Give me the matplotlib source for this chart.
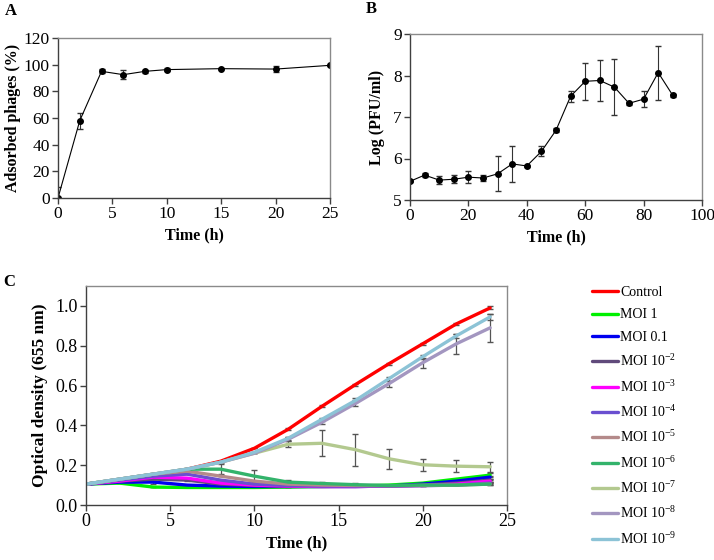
import matplotlib
matplotlib.use("Agg")
import matplotlib.pyplot as plt

plt.rcParams['font.family'] = ['Liberation Serif', 'DejaVu Serif']
plt.rcParams['mathtext.fontset'] = 'custom'
plt.rcParams['mathtext.rm'] = 'Liberation Serif'
plt.rcParams['mathtext.it'] = 'Liberation Serif:italic'
plt.rcParams['mathtext.bf'] = 'Liberation Serif:bold'

# ---- Panel A data ----
a_time = [0, 2, 4, 6, 8, 10, 15, 20, 25]
a_adsorbed = [0, 58, 95, 92.5, 95, 96.3, 97, 96.7, 99.5]
a_err = [8, 6, 1.5, 3.5, 1.0, 1.2, 0.5, 2.5, 0.5]

# ---- Panel B data ----
b_time = [0, 5, 10, 15, 20, 25, 30, 35, 40, 45, 50, 55, 60, 65, 70, 75, 80, 85, 90]
b_logpfu = [5.45, 5.6, 5.48, 5.5, 5.55, 5.53, 5.63, 5.87, 5.82, 6.17, 6.68,
            7.5, 7.86, 7.88, 7.72, 7.33, 7.43, 8.07, 7.52]
b_err = [0.02, 0.05, 0.1, 0.1, 0.15, 0.07, 0.42, 0.43, 0.03, 0.12, 0.05,
         0.13, 0.44, 0.5, 0.68, 0.03, 0.2, 0.65, 0.03]

# ---- Panel C data ----
c_time = [0, 2, 4, 6, 8, 10, 12, 14, 16, 18, 20, 22, 24]
c_labels = ['Control', 'MOI 1', 'MOI 0.1', 'MOI 10$^{-2}$', 'MOI 10$^{-3}$',
            'MOI 10$^{-4}$', 'MOI 10$^{-5}$', 'MOI 10$^{-6}$', 'MOI 10$^{-7}$',
            'MOI 10$^{-8}$', 'MOI 10$^{-9}$']
c_colors = ['#FF0000', '#00F000', '#0000F0', '#604A7B', '#FF00FF', '#6A4FD0',
            '#B48A8A', '#33B36B', '#B3C98F', '#A396C0', '#8CC3D6']
c_control = [0.105, 0.125, 0.15, 0.18, 0.22, 0.285, 0.38, 0.495, 0.605, 0.71, 0.81, 0.91, 0.99]
c_moi1 = [0.105, 0.11, 0.09, 0.088, 0.088, 0.088, 0.09, 0.093, 0.095, 0.1, 0.11, 0.13, 0.15]
c_moi01 = [0.105, 0.115, 0.115, 0.1, 0.095, 0.093, 0.093, 0.093, 0.093, 0.095, 0.105, 0.12, 0.14]
c_moi2 = [0.105, 0.12, 0.13, 0.125, 0.105, 0.098, 0.095, 0.093, 0.093, 0.095, 0.1, 0.11, 0.125]
c_moi3 = [0.105, 0.12, 0.14, 0.135, 0.11, 0.1, 0.095, 0.093, 0.093, 0.095, 0.098, 0.105, 0.12]
c_moi4 = [0.105, 0.125, 0.145, 0.155, 0.125, 0.105, 0.098, 0.095, 0.095, 0.095, 0.097, 0.1, 0.11]
c_moi5 = [0.105, 0.13, 0.155, 0.17, 0.145, 0.12, 0.105, 0.1, 0.098, 0.097, 0.098, 0.1, 0.105]
c_moi6 = [0.105, 0.13, 0.155, 0.18, 0.18, 0.145, 0.115, 0.108, 0.102, 0.098, 0.1, 0.1, 0.105]
c_moi7 = [0.105, 0.13, 0.155, 0.18, 0.215, 0.26, 0.305, 0.31, 0.278, 0.232, 0.202, 0.195, 0.192]
c_moi8 = [0.105, 0.13, 0.155, 0.18, 0.215, 0.26, 0.33, 0.415, 0.51, 0.61, 0.715, 0.81, 0.89]
c_moi9 = [0.105, 0.13, 0.155, 0.18, 0.215, 0.265, 0.335, 0.43, 0.525, 0.635, 0.745, 0.85, 0.945]
c_err_control = [0, 0, 0, 0, 0, 0, 0.005, 0.005, 0.005, 0.005, 0.005, 0.005, 0.008]
c_err_moi1 = [0, 0, 0, 0, 0, 0, 0, 0, 0, 0, 0, 0, 0.01]
c_err_moi01 = [0, 0, 0.008, 0, 0, 0, 0, 0, 0, 0, 0, 0, 0.008]
c_err_moi2 = [0, 0, 0, 0.005, 0, 0, 0, 0, 0, 0, 0, 0, 0.008]
c_err_moi3 = [0, 0, 0, 0, 0, 0, 0, 0, 0, 0, 0, 0, 0.006]
c_err_moi4 = [0, 0, 0, 0, 0, 0, 0, 0, 0, 0, 0, 0, 0.006]
c_err_moi5 = [0, 0, 0, 0, 0, 0, 0, 0, 0, 0, 0, 0, 0.005]
c_err_moi6 = [0, 0, 0, 0, 0.025, 0.03, 0.012, 0.01, 0.008, 0, 0, 0, 0.006]
c_err_moi7 = [0, 0, 0, 0, 0, 0, 0.015, 0.065, 0.08, 0.05, 0.03, 0.03, 0.025]
c_err_moi8 = [0, 0, 0, 0, 0, 0, 0.01, 0.01, 0.015, 0.015, 0.025, 0.05, 0.07]
c_err_moi9 = [0, 0, 0, 0, 0, 0, 0.008, 0.008, 0.01, 0.01, 0.01, 0.01, 0.015]

c_series = [c_control, c_moi1, c_moi01, c_moi2, c_moi3, c_moi4, c_moi5,
            c_moi6, c_moi7, c_moi8, c_moi9]
c_errs = [c_err_control, c_err_moi1, c_err_moi01, c_err_moi2, c_err_moi3,
          c_err_moi4, c_err_moi5, c_err_moi6, c_err_moi7, c_err_moi8, c_err_moi9]

W, H = 714, 560
fig = plt.figure(figsize=(W / 100, H / 100), dpi=100)


def add_ax(l, r, t, b):
    return fig.add_axes([l / W, 1 - b / H, (r - l) / W, (b - t) / H])


def style(ax, fs):
    for s in ['top', 'right']:
        ax.spines[s].set_color('#8a8a8a')
    for s in ['bottom', 'left']:
        ax.spines[s].set_color('#404040')
    for s in ax.spines.values():
        s.set_linewidth(1.0)
    ax.tick_params(direction='out', length=4, width=1.0, color='#404040',
                   labelsize=fs, pad=2)


# Panel A
axA = add_ax(58, 330, 38, 198)
axA.errorbar(a_time, a_adsorbed, yerr=a_err, color='black', lw=0.8,
             marker='o', ms=4, ecolor='#333333', elinewidth=0.8, capsize=2.5)
axA.set_xlim(0, 25)
axA.set_ylim(0, 120)
axA.set_xticks([0, 5, 10, 15, 20, 25])
axA.set_yticks(range(0, 121, 20))
axA.set_xlabel('Time (h)', fontsize=11.5, fontweight='bold', labelpad=4)
axA.set_ylabel('Adsorbed phages (%)', fontsize=11.5, fontweight='bold', labelpad=2)
style(axA, 12.5)
fig.text(5 / W, 1 - 11 / H, 'A', fontsize=12, fontweight='bold', va='center')

# Panel B
axB = add_ax(410, 702, 34, 200)
axB.errorbar(b_time, b_logpfu, yerr=b_err, color='black', lw=0.8,
             marker='o', ms=4, ecolor='#333333', elinewidth=0.8, capsize=2.5)
axB.set_xlim(0, 100)
axB.set_ylim(5, 9)
axB.set_xticks(range(0, 101, 20))
axB.set_yticks([5, 6, 7, 8, 9])
axB.set_xlabel('Time (h)', fontsize=11.5, fontweight='bold', labelpad=4)
axB.set_ylabel('Log (PFU/ml)', fontsize=11.5, fontweight='bold', labelpad=6)
style(axB, 12.5)
fig.text(366 / W, 1 - 9 / H, 'B', fontsize=12, fontweight='bold', va='center')

# Panel C
axC = add_ax(86, 507, 286, 505)
handles = []
for ys, es in zip(c_series, c_errs):
    axC.errorbar(c_time, ys, yerr=es, fmt='none', ecolor='#555555',
                 elinewidth=0.9, capsize=2.5, zorder=1)
for ys, col, lab in zip(c_series, c_colors, c_labels):
    h, = axC.plot(c_time, ys, color=col, lw=2.4, label=lab,
                  solid_joinstyle='round', solid_capstyle='round', zorder=2)
    handles.append(h)
axC.set_xlim(0, 25)
axC.set_ylim(0, 1.1)
axC.set_xticks([0, 5, 10, 15, 20, 25])
axC.set_yticks([0.0, 0.2, 0.4, 0.6, 0.8, 1.0])
axC.set_yticklabels(['0.0', '0.2', '0.4', '0.6', '0.8', '1.0'])
axC.set_xlabel('Time (h)', fontsize=12, fontweight='bold', labelpad=4)
axC.set_ylabel('Optical density (655 nm)', fontsize=12.5, fontweight='bold', labelpad=5)
style(axC, 13)
fig.text(3 / W, 1 - 282 / H, 'C', fontsize=12, fontweight='bold', va='center')

fig.legend(handles=handles, labels=c_labels, loc='upper left',
           bbox_to_anchor=(585 / W, 1 - 279 / H), frameon=False,
           fontsize=10, handlelength=1.9, handletextpad=0.15,
           labelspacing=0.68, borderpad=0)

fig.savefig('out.png', dpi=100)
